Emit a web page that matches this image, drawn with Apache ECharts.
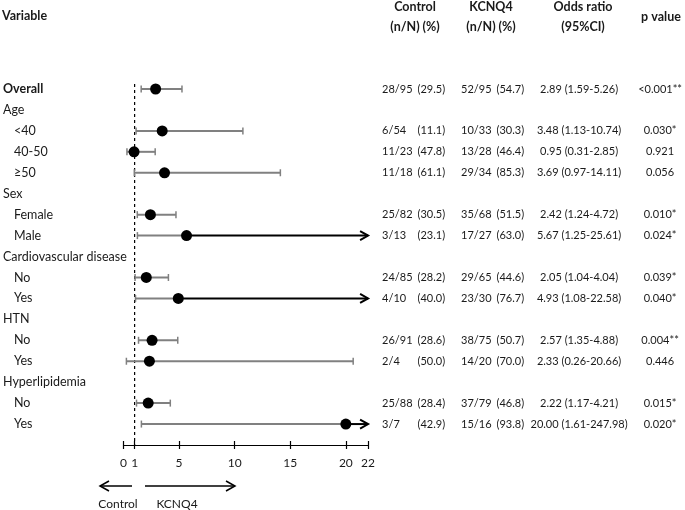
<!DOCTYPE html>
<html>
<head>
<meta charset="utf-8">
<title>Forest plot</title>
<script src="https://cdn.jsdelivr.net/npm/echarts@6.0.0/dist/echarts.min.js"></script>
<style>
  html, body { margin: 0; padding: 0; background: #fff; }
  #chart { width: 685px; height: 510px; }
</style>
</head>
<body>
<div id="chart"></div>
<script>
'use strict';

// rows of the table (top to bottom); level 0 = bold, 1 = group, 2 = subgroup
var labels = ['Overall', 'Age', '<40', '40-50', '≥50', 'Sex', 'Female', 'Male',
  'Cardiovascular disease', 'No', 'Yes', 'HTN', 'No', 'Yes', 'Hyperlipidemia', 'No', 'Yes'];
var levels = [0, 1, 2, 2, 2, 1, 2, 2, 1, 2, 2, 1, 2, 2, 1, 2, 2];

// odds ratio and 95% CI
var oddsRatio = [2.89, null, 3.48, 0.95, 3.69, null, 2.42, 5.67, null, 2.05, 4.93, null, 2.57, 2.33, null, 2.22, 20.00];
var ciLow = [1.59, null, 1.13, 0.31, 0.97, null, 1.24, 1.25, null, 1.04, 1.08, null, 1.35, 0.26, null, 1.17, 1.61];
var ciHigh = [5.26, null, 10.74, 2.85, 14.11, null, 4.72, 25.61, null, 4.04, 22.58, null, 4.88, 20.66, null, 4.21, 247.98];

// counts
var controlN = ['28/95', '', '6/54', '11/23', '11/18', '', '25/82', '3/13', '', '24/85', '4/10', '', '26/91', '2/4', '', '25/88', '3/7'];
var controlPct = ['29.5', '', '11.1', '47.8', '61.1', '', '30.5', '23.1', '', '28.2', '40.0', '', '28.6', '50.0', '', '28.4', '42.9'];
var kcnqN = ['52/95', '', '10/33', '13/28', '29/34', '', '35/68', '17/27', '', '29/65', '23/30', '', '38/75', '14/20', '', '37/79', '15/16'];
var kcnqPct = ['54.7', '', '30.3', '46.4', '85.3', '', '51.5', '63.0', '', '44.6', '76.7', '', '50.7', '70.0', '', '46.8', '93.8'];
var pValues = ['<0.001**', '', '0.030*', '0.921', '0.056', '', '0.010*', '0.024*', '', '0.039*', '0.040*', '', '0.004**', '0.446', '', '0.015*', '0.020*'];

// x axis
var xMin = 0;
var xMax = 22;
var xTicks = [0, 1, 5, 10, 15, 20, 22];

var FONT = 'Lato';
var TEXT = '#1a1a1a';
var COL_SIZE = 11;

// one extra empty category at the bottom so the x axis sits one row below
var cats = labels.concat(['']);

var ciData = [];
var pointData = [];
labels.forEach(function(l, i) {
  if (oddsRatio[i] == null) return;
  ciData.push([i, ciLow[i], ciHigh[i], oddsRatio[i]]);
  pointData.push([oddsRatio[i], i]);
});

function fmtOr(i) {
  if (oddsRatio[i] == null) return '';
  return oddsRatio[i].toFixed(2) + ' (' + ciLow[i].toFixed(2) + '-' + ciHigh[i].toFixed(2) + ')';
}

// CI line with caps; truncated intervals get a black arrow at the axis end
function renderCI(params, api) {
  var row = api.value(0);
  var lo = api.value(1);
  var hi = api.value(2);
  var est = api.value(3);
  var capped = hi > xMax;
  var a = api.coord([lo, row]);
  var b = api.coord([Math.min(hi, xMax), row]);
  var e = api.coord([est, row]);
  var y = a[1];
  var grey = '#808080';
  var children = [];
  children.push({
    type: 'line',
    shape: { x1: a[0], y1: y, x2: capped ? e[0] : b[0], y2: y },
    style: { stroke: grey, lineWidth: 2 }
  });
  children.push({
    type: 'line',
    shape: { x1: a[0], y1: y - 3.5, x2: a[0], y2: y + 3.5 },
    style: { stroke: grey, lineWidth: 1.5 }
  });
  if (!capped) {
    children.push({
      type: 'line',
      shape: { x1: b[0], y1: y - 3.5, x2: b[0], y2: y + 3.5 },
      style: { stroke: grey, lineWidth: 1.5 }
    });
  } else {
    children.push({
      type: 'line',
      shape: { x1: e[0], y1: y, x2: b[0], y2: y },
      style: { stroke: '#000', lineWidth: 2 }
    });
    children.push({
      type: 'polyline',
      shape: { points: [[b[0] - 8, y - 4.5], [b[0], y], [b[0] - 8, y + 4.5]] },
      style: { stroke: '#000', lineWidth: 2, fill: null }
    });
  }
  return { type: 'group', children: children };
}

// reference line at OR = 1, a little above the first row
function renderRef(params, api) {
  var top = api.coord([1, 0]);
  var bottom = api.coord([1, cats.length - 1]);
  return {
    type: 'line',
    shape: { x1: top[0], y1: top[1] - 5, x2: bottom[0], y2: bottom[1] },
    style: { stroke: '#000', lineWidth: 1.2, lineDash: [3, 3] }
  };
}

function colAxis(margin, align, formatter, rich) {
  return {
    type: 'category',
    data: cats,
    inverse: true,
    boundaryGap: false,
    position: 'right',
    offset: 0,
    axisLine: { show: false },
    axisTick: { show: false },
    splitLine: { show: false },
    axisLabel: {
      interval: 0,
      margin: margin,
      align: align,
      fontFamily: FONT,
      fontSize: COL_SIZE,
      color: TEXT,
      formatter: formatter,
      rich: rich || {}
    }
  };
}

function headerText(x, y, text, align) {
  return {
    type: 'text',
    x: x,
    y: y,
    style: {
      text: text,
      fontFamily: FONT,
      fontSize: 12.5,
      fontWeight: 'bold',
      fill: TEXT,
      align: align || 'center',
      verticalAlign: 'middle'
    }
  };
}

function arrow(x1, x2, y) {
  var dir = x2 > x1 ? 1 : -1;
  return {
    type: 'group',
    children: [
      { type: 'line', shape: { x1: x1, y1: y, x2: x2, y2: y }, style: { stroke: '#000', lineWidth: 1.5 } },
      {
        type: 'polyline',
        shape: { points: [[x2 - dir * 9, y - 5], [x2, y], [x2 - dir * 9, y + 5]] },
        style: { stroke: '#000', lineWidth: 1.5, fill: null }
      }
    ]
  };
}

var pctRich = {
  n: { width: 33, align: 'left', fontFamily: FONT, fontSize: COL_SIZE, color: TEXT },
  p: { width: 30, align: 'right', fontFamily: FONT, fontSize: COL_SIZE, color: TEXT }
};

var option = {
  backgroundColor: '#fff',
  animation: false,
  grid: { left: 122.5, right: 316, top: 89, bottom: 65, containLabel: false },
  xAxis: [{
    type: 'value',
    min: xMin,
    max: xMax,
    position: 'bottom',
    axisLine: { show: true, lineStyle: { color: '#000', width: 1.2 } },
    axisTick: { show: true, length: 4, customValues: xTicks, lineStyle: { color: '#000', width: 1.2 } },
    axisLabel: { customValues: xTicks, margin: 12, fontFamily: FONT, fontSize: 12, color: TEXT },
    splitLine: { show: false }
  }, {
    type: 'value',
    min: xMin,
    max: xMax,
    position: 'bottom',
    offset: 0,
    axisLine: { show: false },
    axisTick: { show: true, inside: true, length: 4, customValues: xTicks, lineStyle: { color: '#000', width: 1.2 } },
    axisLabel: { show: false },
    splitLine: { show: false }
  }],
  yAxis: [{
    type: 'category',
    data: cats,
    inverse: true,
    boundaryGap: false,
    position: 'left',
    axisLine: { show: false },
    axisTick: { show: false },
    splitLine: { show: false },
    axisLabel: {
      interval: 0,
      margin: 120.5,
      align: 'left',
      fontFamily: FONT,
      fontSize: 12.5,
      color: TEXT,
      formatter: function(v, i) {
        if (i >= labels.length) return '';
        if (levels[i] === 0) return '{b|' + v + '}';
        if (levels[i] === 2) return '{s|' + v + '}';
        return '{g|' + v + '}';
      },
      rich: {
        b: { fontFamily: FONT, fontSize: 12.5, fontWeight: 'bold', color: TEXT },
        g: { fontFamily: FONT, fontSize: 12.5, color: TEXT },
        s: { fontFamily: FONT, fontSize: 12.5, color: TEXT, padding: [0, 0, 0, 11] }
      }
    }
  },
  colAxis(14, 'left', function(v, i) {
    if (!controlN[i]) return '';
    return '{n|' + controlN[i] + '}{p|(' + controlPct[i] + ')}';
  }, pctRich),
  colAxis(93, 'left', function(v, i) {
    if (!kcnqN[i]) return '';
    return '{n|' + kcnqN[i] + '}{p|(' + kcnqPct[i] + ')}';
  }, pctRich),
  colAxis(211, 'center', function(v, i) {
    return fmtOr(i) || '';
  }),
  colAxis(292, 'center', function(v, i) {
    return pValues[i] || '';
  })],
  series: [{
    type: 'custom',
    renderItem: renderRef,
    data: [[1, 0]],
    encode: { x: 0, y: 1 },
    z: 1,
    silent: true
  }, {
    type: 'custom',
    renderItem: renderCI,
    data: ciData,
    encode: { x: [1, 2, 3], y: 0 },
    z: 2,
    silent: true
  }, {
    type: 'scatter',
    data: pointData,
    symbol: 'circle',
    symbolSize: 11,
    itemStyle: { color: '#000', opacity: 1 },
    z: 3,
    silent: true
  }],
  graphic: [
    headerText(2, 16, 'Variable', 'left'),
    headerText(415, 7, 'Control'),
    headerText(415, 27, '(n/N) (%)'),
    headerText(491, 7, 'KCNQ4'),
    headerText(491, 27, '(n/N) (%)'),
    headerText(583, 7, 'Odds ratio'),
    headerText(583, 27, '(95%CI)'),
    headerText(661, 17, 'p value'),
    arrow(132, 100, 486),
    arrow(145, 235, 486),
    { type: 'text', x: 118, y: 504, style: { text: 'Control', fontFamily: FONT, fontSize: 12, fill: TEXT, align: 'center', verticalAlign: 'middle' } },
    { type: 'text', x: 177, y: 504, style: { text: 'KCNQ4', fontFamily: FONT, fontSize: 12, fill: TEXT, align: 'center', verticalAlign: 'middle' } }
  ]
};

var chart = echarts.init(document.getElementById('chart'));
chart.setOption(option);
window.addEventListener('resize', function() {
  chart && chart.resize();
});
</script>
</body>
</html>
